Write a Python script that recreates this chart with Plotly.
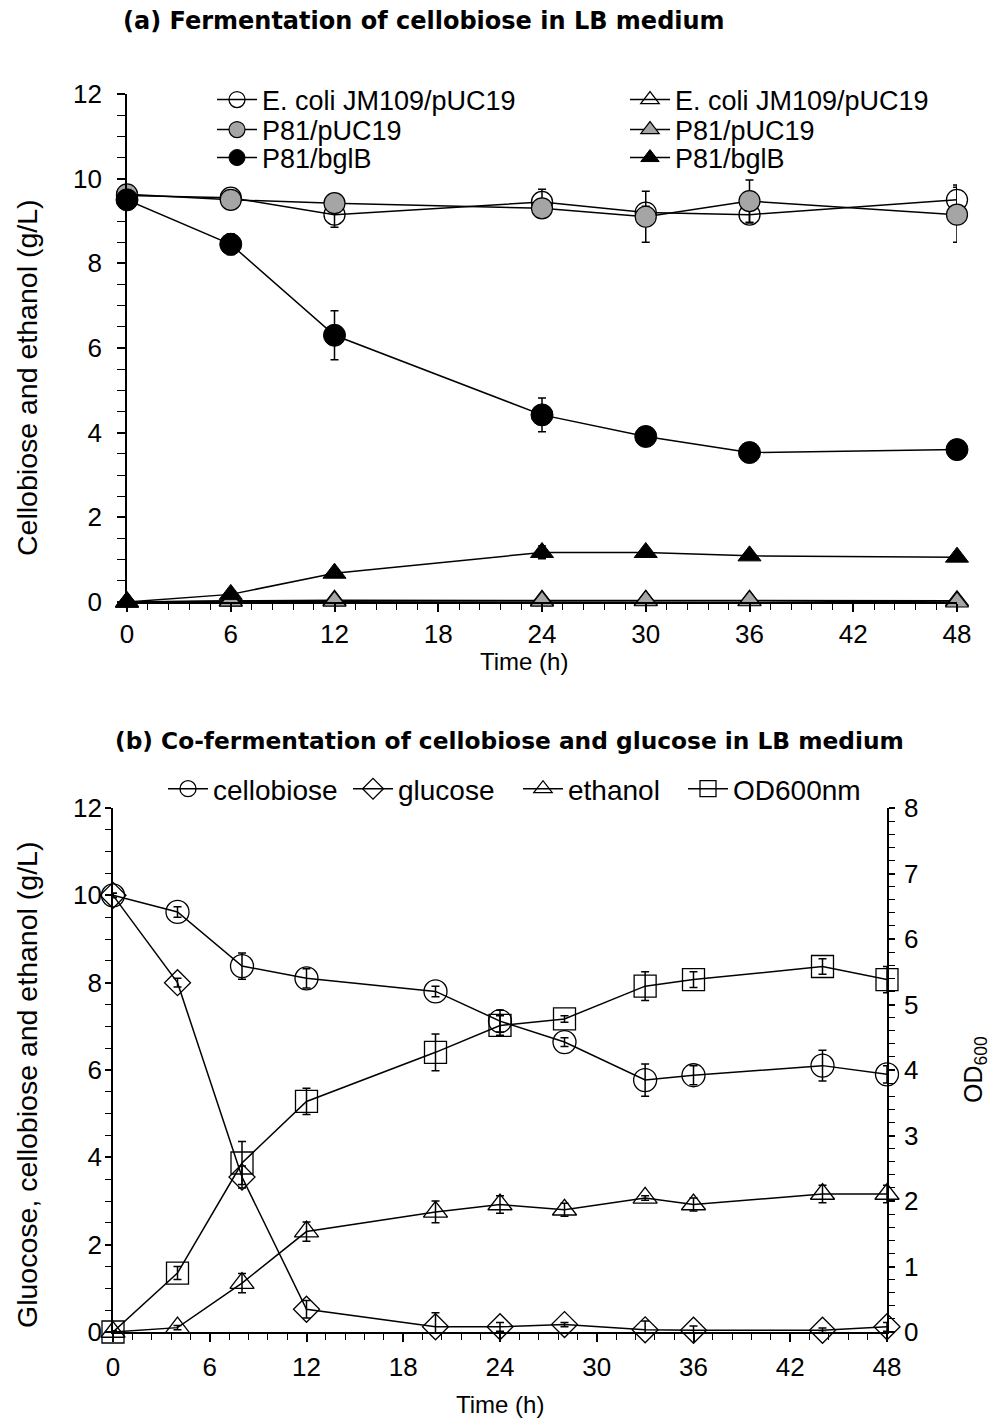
import plotly.graph_objects as go

# ---------------- data: panel (a) ----------------
time_a = [0, 6, 12, 24, 30, 36, 48]
ecoli_cellobiose = [9.6, 9.55, 9.15, 9.45, 9.2, 9.15, 9.5]
ecoli_cellobiose_err = [0.1, 0.1, 0.3, 0.3, 0.15, 0.2, 0.35]
puc_cellobiose = [9.63, 9.5, 9.42, 9.3, 9.1, 9.47, 9.15]
puc_cellobiose_err = [0.05, 0.05, 0.1, 0.1, 0.6, 0.5, 0.65]
bglb_cellobiose = [9.5, 8.45, 6.3, 4.42, 3.91, 3.53, 3.6]
bglb_cellobiose_err = [0.1, 0.25, 0.58, 0.4, 0.1, 0.05, 0.1]
ecoli_ethanol = [0.0, 0.03, 0.04, 0.04, 0.04, 0.04, 0.03]
puc_ethanol = [0.0, 0.02, 0.02, 0.02, 0.03, 0.03, 0.0]
bglb_ethanol = [0.0, 0.18, 0.68, 1.17, 1.17, 1.09, 1.06]
bglb_ethanol_err = [0.0, 0.05, 0.05, 0.15, 0.05, 0.05, 0.05]
legend_a_names = ["E. coli JM109/pUC19", "P81/pUC19", "P81/bglB"]

# ---------------- data: panel (b) ----------------
time_b = [0, 4, 8, 12, 20, 24, 28, 33, 36, 44, 48]
cellobiose = [10.0, 9.62, 8.38, 8.1, 7.8, 7.12, 6.64, 5.77, 5.88, 6.1, 5.9]
cellobiose_err = [0.05, 0.12, 0.3, 0.22, 0.12, 0.25, 0.1, 0.37, 0.22, 0.35, 0.2]
glucose = [10.0, 8.0, 3.55, 0.52, 0.12, 0.12, 0.17, 0.05, 0.04, 0.04, 0.12]
glucose_err = [0.05, 0.1, 0.25, 0.2, 0.32, 0.1, 0.05, 0.2, 0.1, 0.05, 0.1]
ethanol = [0.0, 0.1, 1.12, 2.3, 2.75, 2.92, 2.8, 3.07, 2.92, 3.16, 3.16]
ethanol_err = [0.0, 0.05, 0.22, 0.22, 0.25, 0.2, 0.15, 0.05, 0.15, 0.2, 0.2]
od600 = [0.0, 0.9, 2.58, 3.52, 4.27, 4.68, 4.78, 5.28, 5.38, 5.58, 5.38]
od600_err = [0.02, 0.1, 0.33, 0.2, 0.28, 0.15, 0.05, 0.22, 0.12, 0.12, 0.2]
legend_b_names = ["cellobiose", "glucose", "ethanol", "OD600nm"]

time_ticks = [0, 6, 12, 18, 24, 30, 36, 42, 48]

# page is offset by the default 8px body margin
OFF = 8
W, H = 997 - OFF, 1421 - OFF
FONT = "Arial, 'Liberation Sans', sans-serif"
TITLE_FONT = "'DejaVu Sans', Arial, sans-serif"
GRAY = "#a5a5a5"


def fx(px):
    return (px - OFF) / W


def fy(py):
    return 1 - (py - OFF) / H


def err(arr):
    return dict(type="data", array=arr, color="black", thickness=1.5, width=4)


fig = go.Figure()


def add(x, y, name, symbol, size, color, lw, xa, ya, leg, e=None):
    fig.add_trace(go.Scatter(
        x=x, y=y, name=name, mode="lines+markers",
        line=dict(color="black", width=1.5),
        marker=dict(symbol=symbol, size=size, color=color,
                    line=dict(color="black", width=lw)),
        error_y=err(e) if e is not None else None,
        xaxis=xa, yaxis=ya, legend=leg, cliponaxis=False))


# ---- panel (a) ----
add(time_a, ecoli_cellobiose, legend_a_names[0], "circle-open", 21, "black", 1.3, "x", "y",
    "legend", ecoli_cellobiose_err)
add(time_a, puc_cellobiose, legend_a_names[1], "circle", 21, GRAY, 1.2, "x", "y",
    "legend2", puc_cellobiose_err)
add(time_a, bglb_cellobiose, legend_a_names[2], "circle", 22, "black", 1.0, "x", "y",
    "legend3", bglb_cellobiose_err)
add(time_a, ecoli_ethanol, legend_a_names[0], "triangle-up-open", 20, "black", 1.3, "x", "y",
    "legend4")
add(time_a, puc_ethanol, legend_a_names[1], "triangle-up", 20, GRAY, 1.2, "x", "y", "legend5")
add(time_a, bglb_ethanol, legend_a_names[2], "triangle-up", 20, "black", 1.0, "x", "y",
    "legend6", bglb_ethanol_err)

# ---- panel (b) ----
add(time_b, cellobiose, legend_b_names[0], "circle-open", 23, "black", 1.3, "x2", "y2",
    "legend7", cellobiose_err)
add(time_b, glucose, legend_b_names[1], "diamond-open", 20, "black", 1.3, "x2", "y2",
    "legend8", glucose_err)
add(time_b, ethanol, legend_b_names[2], "triangle-up-open", 21, "black", 1.3, "x2", "y2",
    "legend9", ethanol_err)
add(time_b, od600, legend_b_names[3], "square-open", 22, "black", 1.3, "x2", "y3",
    "legend10", od600_err)

tickfont = dict(family=FONT, size=26, color="black")


def axis_common(**kw):
    d = dict(showline=True, linecolor="black", linewidth=1.8, showgrid=False, zeroline=False,
             ticks="outside", ticklen=8, tickwidth=1.5, tickcolor="black", tickfont=tickfont,
             automargin=False)
    d.update(kw)
    return d


minor_x = dict(dtick=1.2, ticks="outside", ticklen=6, tickwidth=1.3, tickcolor="black",
               showgrid=False)


def minor_y(step, ln=8):
    return dict(dtick=step, ticks="outside", ticklen=ln, tickwidth=1.3, tickcolor="black",
                showgrid=False)


layout = dict(
    template="none",
    width=W, height=H, paper_bgcolor="white", plot_bgcolor="white",
    margin=dict(l=0, r=0, t=0, b=0, pad=0),
    font=dict(family=FONT, color="black"),
    xaxis=axis_common(domain=[fx(127), fx(957)], range=[0, 48], anchor="y",
                      tickvals=time_ticks, minor=minor_x),
    yaxis=axis_common(domain=[fy(602), fy(94)], range=[0, 12], anchor="x", dtick=2,
                      ticklabelstandoff=10, minor=minor_y(0.5)),
    xaxis2=axis_common(domain=[fx(113), fx(887)], range=[0, 48], anchor="y2",
                       tickvals=time_ticks, ticklabelstandoff=3, minor=minor_x),
    yaxis2=axis_common(domain=[fy(1332), fy(808)], range=[0, 12], anchor="x2", dtick=2,
                       ticklen=6, ticklabelstandoff=-2, minor=minor_y(0.5, 6)),
    yaxis3=axis_common(domain=[fy(1332), fy(808)], range=[0, 8], anchor="x2",
                       overlaying="y2", side="right", dtick=1, ticklen=6,
                       ticklabelstandoff=4, minor=minor_y(0.2, 6)),
    showlegend=True,
)

# legend entry placement: (text start x, row centre y) in page pixels, font size
legend_spots = [
    (262, 100, 27), (262, 130, 27), (262, 158, 27),
    (675, 100, 27), (675, 130, 27), (675, 158, 27),
    (213, 789, 28), (398, 789, 28), (568, 789, 28), (733, 789, 28),
]
for i, (tx, ty, fs) in enumerate(legend_spots):
    key = "legend" if i == 0 else f"legend{i + 1}"
    layout[key] = dict(x=fx(tx - 50), y=fy(ty), xanchor="left", yanchor="middle",
                       bgcolor="rgba(0,0,0,0)", borderwidth=0, itemwidth=40,
                       font=dict(family=FONT, size=fs, color="black"))

fig.update_layout(**layout)

annotations = [
    dict(text="<b>(a) Fermentation of cellobiose in LB medium</b>", x=fx(424), y=fy(21),
         font=dict(size=24, family=TITLE_FONT)),
    dict(text="<b>(b) Co-fermentation of cellobiose and glucose in LB medium</b>", x=fx(510),
         y=fy(740), font=dict(size=23.3, family=TITLE_FONT)),
    dict(text="Time (h)", x=fx(524), y=fy(661), font=dict(size=24)),
    dict(text="Time (h)", x=fx(500), y=fy(1404), font=dict(size=24)),
    dict(text="Cellobiose and ethanol (g/L)", x=fx(27), y=fy(378), textangle=-90,
         font=dict(size=28.5)),
    dict(text="Gluocose, cellobiose and ethanol (g/L)", x=fx(27), y=fy(1085), textangle=-90,
         font=dict(size=28.5)),
    dict(text="OD<sub>600</sub>", x=fx(975), y=fy(1070), textangle=-90, font=dict(size=25)),
]
for a in annotations:
    a.update(xref="paper", yref="paper", showarrow=False, xanchor="center", yanchor="middle")
    a["font"].update(color="black")
    a["font"].setdefault("family", FONT)
fig.update_layout(annotations=annotations)

fig.write_html("out.html")
